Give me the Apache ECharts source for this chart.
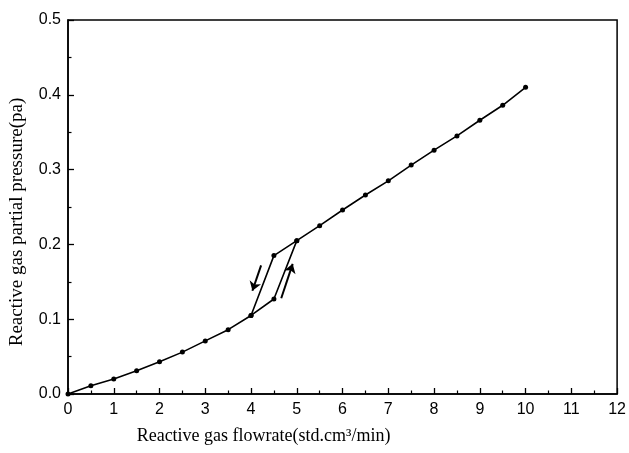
<!DOCTYPE html>
<html>
<head>
<meta charset="utf-8">
<script src="https://cdn.jsdelivr.net/npm/echarts@6/dist/echarts.min.js"></script>
<style>
    html, body { margin: 0; padding: 0; background: #fff; }
    #chart { width: 629px; height: 453px; }
</style>
</head>
<body>
<div id="chart"></div>
<script>
// flow rate (std.cm3/min), increasing branch
const upFlow = [0, 0.5, 1, 1.5, 2, 2.5, 3, 3.5, 4, 4.5, 5, 5.5, 6, 6.5, 7, 7.5, 8, 8.5, 9, 9.5, 10];
const upPressure = [0, 0.011, 0.02, 0.031, 0.043, 0.056, 0.071, 0.086, 0.105, 0.127, 0.205, 0.225,
    0.246, 0.266, 0.285, 0.306, 0.326, 0.345, 0.366, 0.386, 0.41];

// decreasing branch of the hysteresis loop
const downFlow = [5, 4.5, 4];
const downPressure = [0.205, 0.185, 0.105];

// direction arrows [x0, y0, x1, y1]
const arrowDown = [4.22, 0.172, 4.03, 0.138];
const arrowUp = [4.66, 0.128, 4.91, 0.174];

const xTicks = [0, 12, 1];
const yTicks = [0, 0.5, 0.1];

const pairs = (xs, ys) => xs.map((x, i) => [x, ys[i]]);
const arrowLine = a => ({ coords: [[a[0], a[1]], [a[2], a[3]]] });

const black = '#000';
const axisCommon = {
    axisLine: { show: true, lineStyle: { color: black, width: 1.5 } },
    axisTick: { show: true, inside: true, length: 6, lineStyle: { color: black, width: 1.3 } },
    minorTick: { show: true, splitNumber: 2, length: 3.5, lineStyle: { color: black, width: 1.2 } },
    splitLine: { show: false },
    axisLabel: { color: black, fontFamily: 'Liberation Sans', fontSize: 16 },
    nameTextStyle: { color: black, fontFamily: 'Liberation Serif', fontSize: 18 },
};

const chart = echarts.init(document.getElementById('chart'));
chart.setOption({
    backgroundColor: '#fff',
    animation: false,
    grid: { left: 67, right: 9, top: 20, bottom: 59, show: true, borderColor: black, borderWidth: 1.5 },
    xAxis: {
        ...axisCommon,
        type: 'value',
        min: xTicks[0], max: xTicks[1], interval: xTicks[2],
        axisLabel: { ...axisCommon.axisLabel, margin: 8 },
        name: 'Reactive gas flowrate(std.cm³/min)',
        nameLocation: 'middle',
        nameGap: 33,
        nameTextStyle: { ...axisCommon.nameTextStyle, padding: [0, 158, 0, 0] },
    },
    yAxis: {
        ...axisCommon,
        type: 'value',
        min: yTicks[0], max: yTicks[1], interval: yTicks[2],
        axisLabel: { ...axisCommon.axisLabel, margin: 7, formatter: v => v.toFixed(1) },
        name: 'Reactive gas partial pressure(pa)',
        nameLocation: 'middle',
        nameGap: 41,
        nameTextStyle: { ...axisCommon.nameTextStyle, fontSize: 19, padding: [0, 30, 0, 0] },
    },
    series: [
        {
            type: 'line',
            data: pairs(upFlow, upPressure),
            symbol: 'circle',
            symbolSize: 5,
            itemStyle: { color: black },
            lineStyle: { color: black, width: 1.6 },
        },
        {
            type: 'line',
            data: pairs(downFlow, downPressure),
            symbol: 'circle',
            symbolSize: 5,
            itemStyle: { color: black },
            lineStyle: { color: black, width: 1.6 },
        },
        {
            type: 'lines',
            coordinateSystem: 'cartesian2d',
            data: [arrowLine(arrowDown), arrowLine(arrowUp)],
            symbol: ['none', 'arrow'],
            symbolSize: 9,
            lineStyle: { color: black, width: 2, opacity: 1 },
        },
    ],
});
</script>
</body>
</html>
